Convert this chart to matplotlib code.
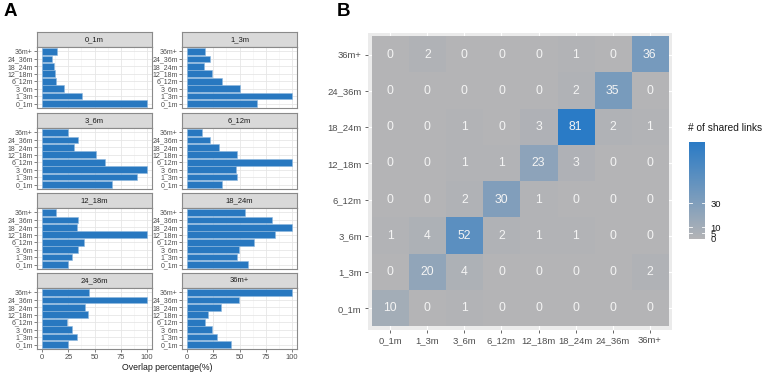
import numpy as np
import matplotlib
matplotlib.use("Agg")
import matplotlib.pyplot as plt
from matplotlib.colors import LinearSegmentedColormap, Normalize

plt.rcParams["font.family"] = ["Liberation Sans", "DejaVu Sans"]

W, H = 764, 372
DPI = 100

groups = ["0_1m", "1_3m", "3_6m", "6_12m", "12_18m", "18_24m", "24_36m", "36m+"]

# Panel A: overlap percentage per facet, values in order of groups (0_1m ... 36m+)
overlap_0_1m = [100, 38, 20.4, 13.4, 11.8, 10.9, 9.3, 13.7]
overlap_1_3m = [66.6, 100, 50, 33, 23.9, 15.9, 21.7, 16.6]
overlap_3_6m = [66.8, 90.4, 100, 59.7, 51.8, 30.4, 34.2, 24.6]
overlap_6_12m = [33.1, 47.5, 47.1, 100, 47.8, 30.6, 21.7, 13.7]
overlap_12_18m = [24.6, 28.1, 33.9, 39.6, 100, 33.5, 34.2, 13.4]
overlap_18_24m = [58.3, 47.5, 49.7, 63.4, 84, 100, 81.2, 55.4]
overlap_24_36m = [25.1, 33.7, 28.9, 23.5, 43.8, 41.3, 100, 44.8]
overlap_36m = [41.7, 28.3, 23.6, 16.6, 19.7, 32.2, 49.7, 100]
facet_values = [overlap_0_1m, overlap_1_3m, overlap_3_6m, overlap_6_12m,
                overlap_12_18m, overlap_18_24m, overlap_24_36m, overlap_36m]
x_ticks_A = [0, 25, 50, 75, 100]

# Panel B: shared links matrix, rows = y groups (0_1m bottom ... 36m+ top), cols = x groups
shared_0_1m = [10, 0, 1, 0, 0, 0, 0, 0]
shared_1_3m = [0, 20, 4, 0, 0, 0, 0, 2]
shared_3_6m = [1, 4, 52, 2, 1, 1, 0, 0]
shared_6_12m = [0, 0, 2, 30, 1, 0, 0, 0]
shared_12_18m = [0, 0, 1, 1, 23, 3, 0, 0]
shared_18_24m = [0, 0, 1, 0, 3, 81, 2, 1]
shared_24_36m = [0, 0, 0, 0, 0, 2, 35, 0]
shared_36m = [0, 2, 0, 0, 0, 1, 0, 36]
shared_rows = [shared_0_1m, shared_1_3m, shared_3_6m, shared_6_12m,
               shared_12_18m, shared_18_24m, shared_24_36m, shared_36m]
cbar_ticks = [0, 5, 10, 30]

BAR = "#2878c0"
GRID = "#e6e6e6"
BORDER = "#8a8a8a"
TXT = "#4d4d4d"

fig = plt.figure(figsize=(W / DPI, H / DPI), dpi=DPI)


def px_axes(x0, y0, x1, y1):
    return fig.add_axes([x0 / W, 1 - y1 / H, (x1 - x0) / W, (y1 - y0) / H])


# ---------------- Panel A ----------------
col_x = [(37, 152), (182, 297)]
row_y0 = [32, 113, 193, 273]
ypos = np.arange(len(groups))
for i, vals in enumerate(facet_values):
    r, c = divmod(i, 2)
    x0, x1 = col_x[c]
    sy = row_y0[r]
    # strip
    sax = px_axes(x0, sy, x1, sy + 15)
    sax.set_facecolor("#d9d9d9")
    sax.set_xticks([]); sax.set_yticks([])
    for s in sax.spines.values():
        s.set_color(BORDER); s.set_linewidth(0.8)
    sax.text(0.5, 0.5, groups[i], ha="center", va="center", fontsize=5.5,
             color="#1a1a1a", transform=sax.transAxes)
    # panel
    ax = px_axes(x0, sy + 15, x1, sy + 76)
    ax.set_facecolor("white")
    ax.barh(ypos, vals, height=0.9, color=BAR, edgecolor="#8fb8de", linewidth=0.4, zorder=3)
    ax.set_xlim(-5, 105)
    ax.set_ylim(-0.6, 7.6)
    ax.set_yticks(ypos)
    ax.set_yticklabels(groups, fontsize=5.0, color=TXT)
    ax.set_xticks(x_ticks_A)
    ax.set_xticks([12.5, 37.5, 62.5, 87.5], minor=True)
    ax.grid(True, which="major", color=GRID, linewidth=0.6, zorder=0)
    ax.grid(True, which="minor", axis="x", color="#f2f2f2", linewidth=0.4, zorder=0)
    ax.tick_params(axis="y", length=2, width=0.5, color=TXT, pad=1)
    ax.tick_params(which="minor", length=0)
    if r == 3:
        ax.set_xticklabels([str(t) for t in x_ticks_A], fontsize=5.4, color=TXT)
        ax.tick_params(axis="x", length=2, width=0.5, color=TXT, pad=1.5)
    else:
        ax.set_xticklabels([])
        ax.tick_params(axis="x", length=0)
    for s in ax.spines.values():
        s.set_color(BORDER); s.set_linewidth(0.8)

fig.text(167 / W, 1 - 367 / H, "Overlap percentage(%)", ha="center", va="center",
         fontsize=6.3, color="#1a1a1a")
fig.text(4 / W, 1 - 11 / H, "A", fontsize=13.5, fontweight="bold", ha="left", va="center")
fig.text(337 / W, 1 - 11 / H, "B", fontsize=13.5, fontweight="bold", ha="left", va="center")

# ---------------- Panel B ----------------
mat = np.array(shared_rows, dtype=float)
cmap = LinearSegmentedColormap.from_list("gb", ["#b4b4b6", "#2a7bc6"])
norm = Normalize(vmin=0, vmax=mat.max())

hax = px_axes(368, 33, 672, 330)
hax.set_facecolor("#ebebeb")
n = len(groups)
for k in range(n):
    hax.axvline(k, color="white", linewidth=0.8, zorder=0)
    hax.axhline(k, color="white", linewidth=0.8, zorder=0)
hax.imshow(mat, cmap=cmap, norm=norm, origin="lower", aspect="auto",
           extent=(-0.5, n - 0.5, -0.5, n - 0.5), zorder=2, interpolation="nearest")
for r in range(n):
    for c in range(n):
        hax.text(c, r, f"{int(mat[r, c])}", ha="center", va="center", fontsize=8.8,
                 color="#f4f4f4", zorder=3)
hax.set_xlim(-0.6, n - 0.4)
hax.set_ylim(-0.6, n - 0.4)
hax.set_xticks(range(n))
hax.set_yticks(range(n))
hax.set_xticklabels(groups, fontsize=6.8, color=TXT)
hax.set_yticklabels(groups, fontsize=6.8, color=TXT)
hax.tick_params(length=2.5, width=0.6, color=TXT, pad=2)
for s in hax.spines.values():
    s.set_visible(False)

# colorbar
cax = px_axes(689, 142, 705, 239)
grad = np.linspace(0, mat.max(), 256).reshape(-1, 1)
cax.imshow(grad, cmap=cmap, norm=norm, origin="lower", aspect="auto",
           extent=(0, 1, 0, mat.max()))
cax.set_xlim(0, 1)
cax.set_ylim(0, mat.max())
cax.set_xticks([])
cax.yaxis.tick_right()
cax.set_yticks(cbar_ticks)
cax.set_yticklabels([str(t) for t in cbar_ticks], fontsize=6.8, color="#1a1a1a")
cax.tick_params(axis="y", length=0, pad=4)
for t in cbar_ticks:
    cax.plot([0, 0.2], [t, t], color="white", linewidth=0.6)
    cax.plot([0.8, 1], [t, t], color="white", linewidth=0.6)
for s in cax.spines.values():
    s.set_visible(False)
fig.text(688 / W, 1 - 128 / H, "# of shared links", fontsize=7.3, color="#1a1a1a",
         ha="left", va="center")

fig.savefig("out.png", dpi=DPI)
